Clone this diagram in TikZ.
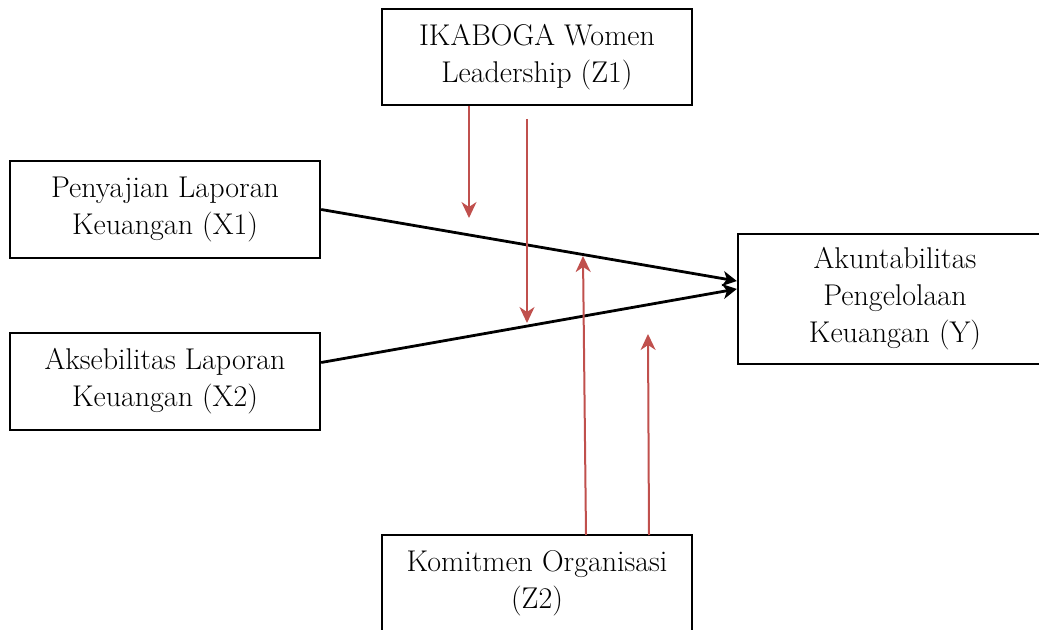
\documentclass[tikz,border=0pt]{standalone}
\usetikzlibrary{arrows.meta}
\definecolor{modred}{RGB}{192,80,77}
\tikzset{
  box/.style={draw, line width=1.2pt, align=center, minimum width=155pt,
    font=\fontsize{15}{18.5}\selectfont},
  path/.style={line width=1.4pt, -{Stealth[length=7pt,width=7.5pt,inset=2pt]}},
  mod/.style={modred, line width=1pt, -{Stealth[length=8pt,width=7.5pt,inset=2.5pt]}}
}
\begin{document}
\begin{tikzpicture}[x=0.5pt,y=-0.5pt]
\useasboundingbox (0,0) rectangle (1039,630);
\node[box, minimum height=48pt] (z1) at (537,57) {IKABOGA Women\\Leadership (Z1)};
\node[box, minimum height=48.5pt] (x1) at (165,209.5) {Penyajian Laporan\\Keuangan (X1)};
\node[box, minimum height=48.5pt] (x2) at (165,381.5) {Aksebilitas Laporan\\Keuangan (X2)};
\node[box, minimum width=157pt, minimum height=65pt] (y) at (895,299) {Akuntabilitas\\Pengelolaan\\Keuangan (Y)};
\node[box, minimum height=48pt] (z2) at (537,583) {Komitmen Organisasi\\(Z2)};

\draw[path] (x1.east) -- ([yshift=9pt]y.west);
\draw[path] ([yshift=9.5pt]x2.east) -- ([yshift=5pt]y.west);

\coordinate (a1) at (469,218);
\coordinate (b0) at (527,119);
\coordinate (b1) at (527,323);
\coordinate (c0) at (586,535);
\coordinate (c1) at (583,256);
\coordinate (d0) at (649,535);
\coordinate (d1) at (648,334);
\draw[mod] (a1 |- z1.south) -- (a1);
\draw[mod] (b0) -- (b1);
\draw[mod] (c0) -- (c1);
\draw[mod] (d0) -- (d1);
\end{tikzpicture}
\end{document}
